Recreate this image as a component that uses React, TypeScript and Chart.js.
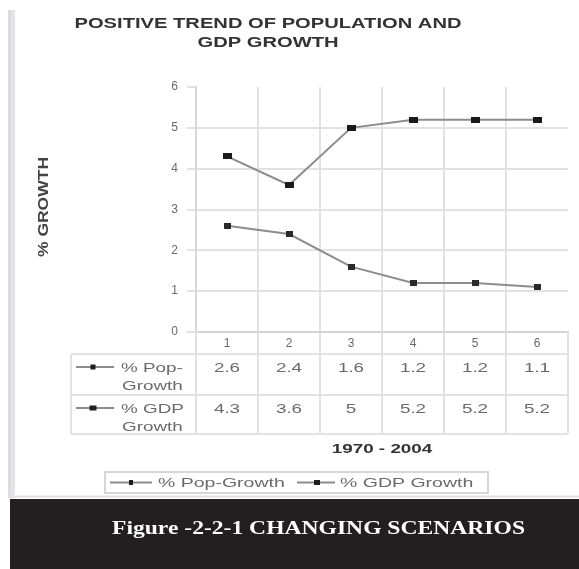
import React, { useEffect, useRef } from 'react';
import { Chart, registerables } from 'chart.js';

Chart.register(...registerables);

// ---- data ----
const categories = ['1', '2', '3', '4', '5', '6'];
const popGrowth = [2.6, 2.4, 1.6, 1.2, 1.2, 1.1];
const gdpGrowth = [4.3, 3.6, 5, 5.2, 5.2, 5.2];
const yMin = 0;
const yMax = 6;
const yStep = 1;
const seriesNames = ['% Pop-Growth', '% GDP Growth'];
const rowLabels = [['% Pop-', 'Growth'], ['% GDP', 'Growth']];
const titleLines = ['POSITIVE TREND OF POPULATION AND', 'GDP GROWTH'];
const xAxisTitle = '1970 - 2004';
const yAxisTitle = '% GROWTH';
const caption = 'Figure -2-2-1 CHANGING SCENARIOS';

// ---- styles ----
const SANS = '"Liberation Sans", Arial, sans-serif';
const SERIF = '"Liberation Serif", "DejaVu Serif", serif';
const GRID = '#e2e2e2';
const LINE = '#8c8c8c';
const TEXT = '#6a6a6a';
const SX = 1.45;

function drawStretched(
  ctx: CanvasRenderingContext2D,
  text: string,
  x: number,
  yCenter: number,
  size: number,
  opts: { bold?: boolean; color?: string; align?: 'left' | 'center' | 'right'; sx?: number; family?: string; width?: number } = {}
) {
  const family = opts.family || SANS;
  ctx.save();
  ctx.font = `${opts.bold ? 'bold ' : ''}${size}px ${family}`;
  ctx.fillStyle = opts.color || TEXT;
  ctx.textAlign = 'left';
  ctx.textBaseline = 'alphabetic';
  const raw = ctx.measureText(text).width;
  const sx = opts.width ? opts.width / raw : opts.sx ?? SX;
  const w = raw * sx;
  const align = opts.align || 'left';
  const left = align === 'center' ? x - w / 2 : align === 'right' ? x - w : x;
  ctx.translate(left, yCenter + size * 0.716 / 2);
  ctx.scale(sx, 1);
  ctx.fillText(text, 0, 0);
  ctx.restore();
}

function makeMarker(w: number, h: number, color: string) {
  const c = document.createElement('canvas');
  c.width = w;
  c.height = h;
  const g = c.getContext('2d')!;
  g.fillStyle = color;
  g.fillRect(0, 0, w, h);
  return c;
}

function drawKey(ctx: CanvasRenderingContext2D, x1: number, x2: number, xm: number, y: number, mw: number, mh: number) {
  ctx.save();
  ctx.strokeStyle = LINE;
  ctx.lineWidth = 2;
  ctx.beginPath();
  ctx.moveTo(x1, y);
  ctx.lineTo(x2, y);
  ctx.stroke();
  ctx.fillStyle = '#1e1e1e';
  ctx.fillRect(xm - mw / 2, y - mh / 2, mw, mh);
  ctx.restore();
}

const decorPlugin = {
  id: 'decor',
  beforeDraw(chart: any) {
    const ctx: CanvasRenderingContext2D = chart.ctx;
    ctx.save();
    ctx.fillStyle = '#ffffff';
    ctx.fillRect(0, 0, chart.width, chart.height);
    // left stripe
    ctx.fillStyle = '#e4e4e6';
    ctx.fillRect(8, 10, 7, 488);
    ctx.fillStyle = '#dcdcde';
    ctx.fillRect(8, 10, 3, 488);
    ctx.restore();
  },
  afterDraw(chart: any) {
    const ctx: CanvasRenderingContext2D = chart.ctx;
    const xs = chart.scales.x;
    const area = chart.chartArea;
    const n = categories.length;
    const half = (xs.getPixelForValue(1) - xs.getPixelForValue(0)) / 2;
    const borders: number[] = [];
    for (let i = 0; i <= n; i++) {
      borders.push(i < n ? xs.getPixelForValue(i) - half : xs.getPixelForValue(n - 1) + half);
    }
    const catRowB = area.bottom + 22;
    const popB = catRowB + 41;
    const gdpB = popB + 39;
    const tableLeft = 71;

    // title
    ctx.save();
    ctx.font = `bold 14px ${SANS}`;
    const tsx = 387 / ctx.measureText(titleLines[0]).width;
    ctx.restore();
    drawStretched(ctx, titleLines[0], 268, 23.3, 14, { bold: true, color: '#333333', align: 'center', sx: tsx });
    drawStretched(ctx, titleLines[1], 268, 41.7, 14, { bold: true, color: '#333333', align: 'center', sx: tsx });

    // y axis title (rotated)
    ctx.save();
    ctx.translate(43, 207);
    ctx.rotate(-Math.PI / 2);
    drawStretched(ctx, yAxisTitle, 0, 0, 14, { bold: true, color: '#444444', align: 'center', width: 100 });
    ctx.restore();

    // table grid
    ctx.save();
    ctx.strokeStyle = GRID;
    ctx.lineWidth = 2;
    ctx.beginPath();
    [catRowB, popB, gdpB].forEach((y) => {
      ctx.moveTo(tableLeft, y);
      ctx.lineTo(borders[n], y);
    });
    borders.forEach((bx) => {
      ctx.moveTo(bx, area.bottom);
      ctx.lineTo(bx, gdpB);
    });
    ctx.moveTo(tableLeft, catRowB);
    ctx.lineTo(tableLeft, gdpB);
    ctx.stroke();
    ctx.restore();

    // table rows
    const rows = [
      { data: popGrowth, top: catRowB, mw: 5, mh: 5 },
      { data: gdpGrowth, top: popB, mw: 7, mh: 5 },
    ];
    rows.forEach((r, ri) => {
      const yc = r.top + 13;
      drawKey(ctx, tableLeft + 5, tableLeft + 43, tableLeft + 22, yc, r.mw, r.mh);
      drawStretched(ctx, rowLabels[ri][0], tableLeft + 50, yc, 13, { color: TEXT });
      drawStretched(ctx, rowLabels[ri][1], tableLeft + 51, yc + 18, 13, { color: TEXT });
      r.data.forEach((v, i) => {
        drawStretched(ctx, String(v), xs.getPixelForValue(i), yc, 13, { color: TEXT, align: 'center' });
      });
    });

    // x axis title
    drawStretched(ctx, xAxisTitle, (area.left + area.right) / 2, gdpB + 14, 13, { bold: true, color: '#333', align: 'center' });

    // legend
    ctx.save();
    ctx.strokeStyle = '#d6d6d6';
    ctx.lineWidth = 2;
    ctx.strokeRect(105, 472, 383, 21);
    ctx.restore();
    const ly = 482.5;
    drawKey(ctx, 110, 152, 131, ly, 4, 5);
    drawStretched(ctx, seriesNames[0], 158, ly, 13, { color: TEXT, sx: 1.5 });
    drawKey(ctx, 297, 335, 317, ly, 6, 5);
    drawStretched(ctx, seriesNames[1], 340, ly, 13, { color: TEXT, sx: 1.5 });

    // bottom separator + caption band
    ctx.save();
    ctx.fillStyle = '#e0e0e0';
    ctx.fillRect(8, 495.5, 571, 2);
    ctx.fillStyle = '#231f20';
    ctx.fillRect(10, 499, 569, 70);
    ctx.restore();
    drawStretched(ctx, caption, 112, 527.5, 19, { bold: true, color: '#ffffff', family: SERIF, width: 413 });
  },
};

export default function App() {
  const ref = useRef<HTMLCanvasElement | null>(null);

  useEffect(() => {
    if (!ref.current) return;
    const popMarker = makeMarker(7, 6, '#2a2a2a');
    const gdpMarker = makeMarker(9, 6, '#1a1a1a');
    const yTicks: number[] = [];
    for (let v = yMin; v <= yMax; v += yStep) yTicks.push(v);

    const chart = new Chart(ref.current, {
      type: 'line',
      data: {
        labels: categories,
        datasets: [
          {
            label: seriesNames[0],
            data: popGrowth,
            borderColor: LINE,
            borderWidth: 2,
            pointStyle: popMarker as any,
            tension: 0,
          },
          {
            label: seriesNames[1],
            data: gdpGrowth,
            borderColor: LINE,
            borderWidth: 2,
            pointStyle: gdpMarker as any,
            tension: 0,
          },
        ],
      },
      options: {
        responsive: false,
        animation: false,
        devicePixelRatio: 1,
        events: [],
        layout: { padding: { top: 87, left: 150, right: 11, bottom: 215 } },
        plugins: {
          legend: { display: false },
          title: { display: false },
          tooltip: { enabled: false },
        },
        scales: {
          x: {
            type: 'category',
            offset: true,
            grid: {
              offset: true,
              drawTicks: false,
              lineWidth: 2,
              color: (c: any) => (c.type === 'tick' ? GRID : 'rgba(0,0,0,0)'),
            },
            border: { display: true, color: '#d4d4d4', width: 2 },
            ticks: { color: TEXT, font: { family: SANS, size: 12 }, padding: 4 },
            afterFit: (s: any) => {
              s.height = 22;
            },
          },
          y: {
            min: yMin,
            max: yMax,
            afterBuildTicks: (s: any) => {
              s.ticks = yTicks.map((v) => ({ value: v }));
            },
            grid: {
              lineWidth: 2,
              color: (c: any) => (c.tick && c.tick.value === yMax ? 'rgba(0,0,0,0)' : GRID),
              tickColor: GRID,
              tickLength: 9,
              drawTicks: true,
            },
            border: { display: true, color: '#d8d8d8', width: 2 },
            ticks: { color: TEXT, font: { family: SANS, size: 12 }, padding: 9 },
            afterFit: (s: any) => {
              s.width = 46;
            },
          },
        },
      },
      plugins: [decorPlugin],
    });
    return () => chart.destroy();
  }, []);

  return (
    <div style={{ position: 'fixed', left: 0, top: 0, width: 579, height: 569, background: '#fff' }}>
      <canvas ref={ref} width={579} height={569} style={{ display: 'block' }} />
    </div>
  );
}
